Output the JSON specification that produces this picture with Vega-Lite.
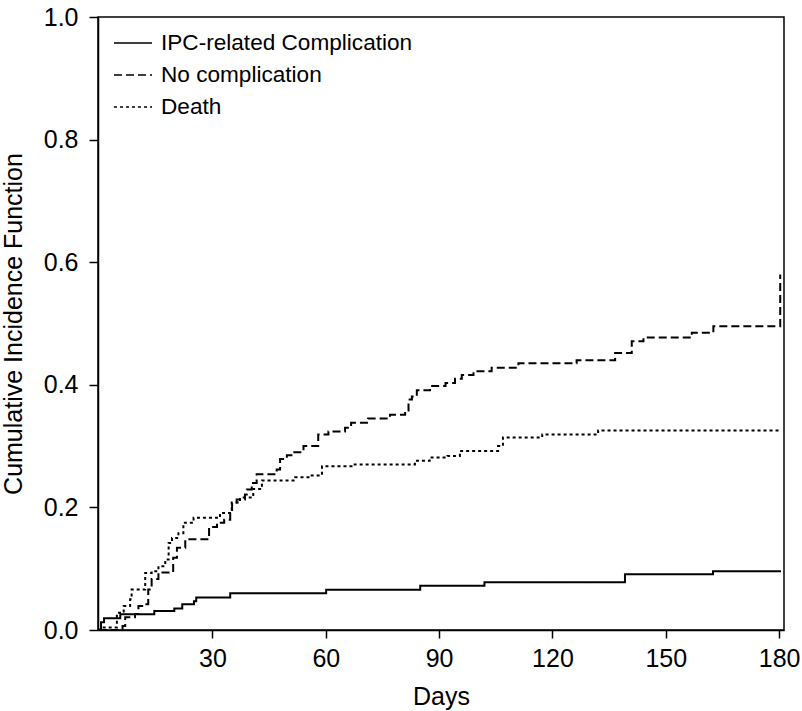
{
  "$schema": "https://vega.github.io/schema/vega-lite/v6.json",
  "width": 686,
  "height": 613,
  "autosize": {"type": "none"},
  "padding": {"left": 98, "top": 17, "right": 18, "bottom": 81},
  "background": "white",
  "config": {
    "font": "Liberation Sans",
    "view": {"stroke": "black", "strokeWidth": 1.5},
    "axis": {
      "domainColor": "black", "domainWidth": 1.5, "tickColor": "black", "tickWidth": 1.5,
      "labelColor": "black", "titleColor": "black", "labelFont": "Liberation Sans", "titleFont": "Liberation Sans",
      "labelFontSize": 25, "titleFontSize": 25, "titleFontWeight": "normal", "grid": false
    }
  },
  "data": {"values": [
    {"series": "IPC-related Complication", "day": 0, "cif": 0},
    {"series": "IPC-related Complication", "day": 0.5, "cif": 0.0126},
    {"series": "IPC-related Complication", "day": 1.3, "cif": 0.019},
    {"series": "IPC-related Complication", "day": 5.6, "cif": 0.0255},
    {"series": "IPC-related Complication", "day": 14.6, "cif": 0.031},
    {"series": "IPC-related Complication", "day": 19.9, "cif": 0.035},
    {"series": "IPC-related Complication", "day": 22, "cif": 0.042},
    {"series": "IPC-related Complication", "day": 25.1, "cif": 0.047},
    {"series": "IPC-related Complication", "day": 25.7, "cif": 0.053},
    {"series": "IPC-related Complication", "day": 34.7, "cif": 0.06},
    {"series": "IPC-related Complication", "day": 60.1, "cif": 0.0655},
    {"series": "IPC-related Complication", "day": 85, "cif": 0.072},
    {"series": "IPC-related Complication", "day": 102, "cif": 0.078},
    {"series": "IPC-related Complication", "day": 139.2, "cif": 0.091},
    {"series": "IPC-related Complication", "day": 162.5, "cif": 0.096},
    {"series": "IPC-related Complication", "day": 180.5, "cif": 0.096},

    {"series": "No complication", "day": 0, "cif": 0},
    {"series": "No complication", "day": 6.2, "cif": 0.0065},
    {"series": "No complication", "day": 6.9, "cif": 0.021},
    {"series": "No complication", "day": 9.5, "cif": 0.026},
    {"series": "No complication", "day": 10.4, "cif": 0.039},
    {"series": "No complication", "day": 11.4, "cif": 0.042},
    {"series": "No complication", "day": 13.0, "cif": 0.066},
    {"series": "No complication", "day": 13.9, "cif": 0.083},
    {"series": "No complication", "day": 15.7, "cif": 0.094},
    {"series": "No complication", "day": 19.6, "cif": 0.118},
    {"series": "No complication", "day": 20.6, "cif": 0.134},
    {"series": "No complication", "day": 22.8, "cif": 0.148},
    {"series": "No complication", "day": 29.1, "cif": 0.168},
    {"series": "No complication", "day": 31.2, "cif": 0.175},
    {"series": "No complication", "day": 33.1, "cif": 0.18},
    {"series": "No complication", "day": 34.7, "cif": 0.194},
    {"series": "No complication", "day": 35.2, "cif": 0.208},
    {"series": "No complication", "day": 36.4, "cif": 0.213},
    {"series": "No complication", "day": 38.6, "cif": 0.221},
    {"series": "No complication", "day": 39.1, "cif": 0.229},
    {"series": "No complication", "day": 40.4, "cif": 0.24},
    {"series": "No complication", "day": 41.7, "cif": 0.254},
    {"series": "No complication", "day": 47.0, "cif": 0.262},
    {"series": "No complication", "day": 47.9, "cif": 0.279},
    {"series": "No complication", "day": 49.7, "cif": 0.285},
    {"series": "No complication", "day": 51.4, "cif": 0.29},
    {"series": "No complication", "day": 54.1, "cif": 0.3},
    {"series": "No complication", "day": 58.0, "cif": 0.319},
    {"series": "No complication", "day": 60.7, "cif": 0.324},
    {"series": "No complication", "day": 65.1, "cif": 0.33},
    {"series": "No complication", "day": 66.7, "cif": 0.338},
    {"series": "No complication", "day": 71.2, "cif": 0.345},
    {"series": "No complication", "day": 77.0, "cif": 0.351},
    {"series": "No complication", "day": 81.0, "cif": 0.358},
    {"series": "No complication", "day": 81.9, "cif": 0.376},
    {"series": "No complication", "day": 82.8, "cif": 0.381},
    {"series": "No complication", "day": 84.1, "cif": 0.391},
    {"series": "No complication", "day": 87.6, "cif": 0.398},
    {"series": "No complication", "day": 91.7, "cif": 0.403},
    {"series": "No complication", "day": 94.2, "cif": 0.41},
    {"series": "No complication", "day": 96.0, "cif": 0.416},
    {"series": "No complication", "day": 99.1, "cif": 0.422},
    {"series": "No complication", "day": 103.9, "cif": 0.428},
    {"series": "No complication", "day": 111.0, "cif": 0.435},
    {"series": "No complication", "day": 126.4, "cif": 0.44},
    {"series": "No complication", "day": 136.6, "cif": 0.452},
    {"series": "No complication", "day": 141.0, "cif": 0.471},
    {"series": "No complication", "day": 144.1, "cif": 0.477},
    {"series": "No complication", "day": 156.9, "cif": 0.485},
    {"series": "No complication", "day": 162.6, "cif": 0.4956},
    {"series": "No complication", "day": 180.3, "cif": 0.58},

    {"series": "Death", "day": 0, "cif": 0},
    {"series": "Death", "day": 0.3, "cif": 0.004},
    {"series": "Death", "day": 4.7, "cif": 0.028},
    {"series": "Death", "day": 6.5, "cif": 0.039},
    {"series": "Death", "day": 8.2, "cif": 0.05},
    {"series": "Death", "day": 8.6, "cif": 0.066},
    {"series": "Death", "day": 12.2, "cif": 0.093},
    {"series": "Death", "day": 13.9, "cif": 0.096},
    {"series": "Death", "day": 15.7, "cif": 0.104},
    {"series": "Death", "day": 17.5, "cif": 0.115},
    {"series": "Death", "day": 18.4, "cif": 0.142},
    {"series": "Death", "day": 19.3, "cif": 0.15},
    {"series": "Death", "day": 21.0, "cif": 0.158},
    {"series": "Death", "day": 22.3, "cif": 0.175},
    {"series": "Death", "day": 25.0, "cif": 0.183},
    {"series": "Death", "day": 32.0, "cif": 0.191},
    {"series": "Death", "day": 35.1, "cif": 0.208},
    {"series": "Death", "day": 37.3, "cif": 0.216},
    {"series": "Death", "day": 40.8, "cif": 0.23},
    {"series": "Death", "day": 43.1, "cif": 0.244},
    {"series": "Death", "day": 51.9, "cif": 0.249},
    {"series": "Death", "day": 55.9, "cif": 0.252},
    {"series": "Death", "day": 59.0, "cif": 0.267},
    {"series": "Death", "day": 67.2, "cif": 0.27},
    {"series": "Death", "day": 83.6, "cif": 0.276},
    {"series": "Death", "day": 87.5, "cif": 0.2815},
    {"series": "Death", "day": 92.2, "cif": 0.284},
    {"series": "Death", "day": 95.5, "cif": 0.292},
    {"series": "Death", "day": 105.6, "cif": 0.3},
    {"series": "Death", "day": 106.9, "cif": 0.314},
    {"series": "Death", "day": 117.3, "cif": 0.319},
    {"series": "Death", "day": 132.1, "cif": 0.3256},
    {"series": "Death", "day": 180.3, "cif": 0.3256}
  ]},
  "mark": {"type": "line", "interpolate": "step-after", "color": "black", "strokeWidth": 2},
  "encoding": {
    "x": {
      "field": "day", "type": "quantitative",
      "scale": {"domain": [-0.3, 181.3], "nice": false, "zero": false},
      "axis": {"values": [30, 60, 90, 120, 150, 180], "title": "Days", "tickSize": 8, "labelPadding": 8, "titlePadding": 13, "labelFlush": false}
    },
    "y": {
      "field": "cif", "type": "quantitative",
      "scale": {"domain": [0, 1], "nice": false},
      "axis": {"values": [0, 0.2, 0.4, 0.6, 0.8, 1.0], "format": ".1f", "title": "Cumulative Incidence Function", "tickSize": 9, "labelPadding": 11, "titlePadding": 17, "labelFlush": false}
    },
    "strokeDash": {
      "field": "series", "type": "nominal",
      "scale": {"domain": ["IPC-related Complication", "No complication", "Death"], "range": [[1, 0], [8, 4], [3, 3]]},
      "legend": {
        "title": null, "orient": "none", "legendX": 15, "legendY": 6,
        "symbolType": "stroke", "symbolSize": 1444, "symbolStrokeWidth": 1.5, "symbolStrokeColor": "black",
        "labelFontSize": 22.6, "labelFont": "Liberation Sans", "labelColor": "black", "labelOffset": 8,
        "rowPadding": -9.5, "labelLimit": 400, "padding": 0
      }
    }
  }
}
